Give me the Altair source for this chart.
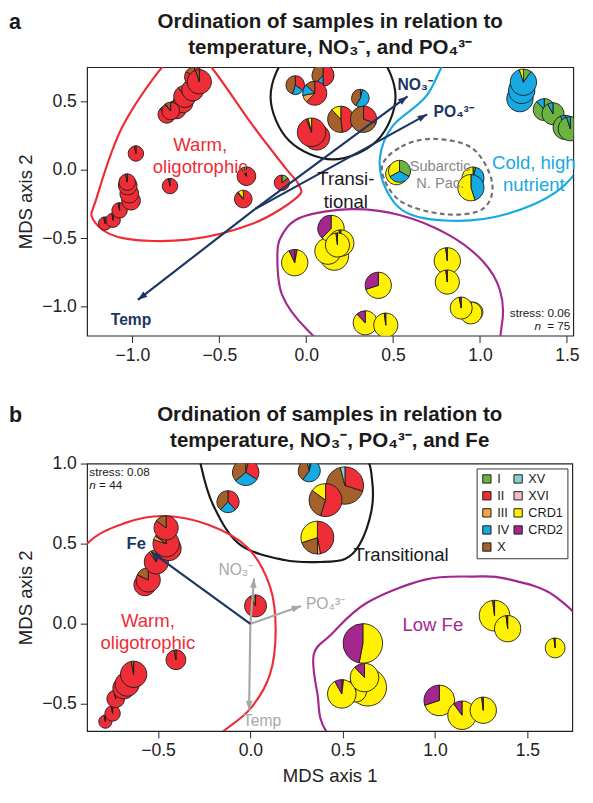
import math
import altair as alt
import pandas as pd

FONT = "Liberation Sans"
CATS = ["I", "II", "III", "IV", "X", "XV", "XVI", "CRD1", "CRD2"]
CAT_COLORS = ["#6CB33F", "#EE2D37", "#F9A342", "#17A9E1", "#A5612B", "#84D2D3", "#F7BACB", "#FFF100", "#A3278F"]

# ---------------- panel a : pies (MDS1, MDS2, relative size, composition) ----------------
a_x = [-1.158, -1.111, -1.074, -1.008, -1.018, -1.027, -1.03, -0.980, -0.784,
       -0.802, -0.746, -0.709, -0.78, -0.699, -0.653, -0.643, -0.615,
       -0.344, -0.362, -0.14,
       0.06, 0.031, -0.063, 0.097, 0.049, 0.312, 0.199, 0.330,
       0.52, 0.537, 0.96, 0.948,
       1.23, 1.24, 1.25, 1.37, 1.42, 1.49, 1.52,
       -0.066, 0.162, 0.125, 0.143, 0.199, 0.18, 0.415, 0.340, 0.458,
       0.812, 0.812, 0.96, 0.948, 0.892]
a_y = [-0.393, -0.369, -0.297, -0.226, -0.175, -0.115, -0.09, 0.119, -0.119,
       0.405, 0.441, 0.489, 0.43, 0.536, 0.584, 0.679, 0.643,
       -0.047, -0.214, -0.095,
       0.24, 0.274, 0.619, 0.691, 0.56, 0.524, 0.369, 0.369,
       -0.03, -0.011, -0.06, -0.131,
       0.52, 0.58, 0.64, 0.44, 0.41, 0.31, 0.30,
       -0.679, -0.631, -0.595, -0.429, -0.536, -0.55, -0.845, -1.119, -1.136,
       -0.666, -0.821, -1.04, -1.047, -1.011]
a_size = [6, 6.5, 7, 8.5, 8.5, 8.5, 7.5, 7, 7,
          8, 8.5, 9, 8, 10, 10, 9, 11,
          8.5, 8, 7,
          12, 13, 8.5, 10, 11, 8, 12, 12,
          10, 10, 10, 12,
          12, 12, 12, 10, 10, 11, 11,
          12, 13, 12, 12, 12, 11, 12, 11, 11,
          12, 11, 9, 10, 10]
a_comp = ["II:97,X:3", "II:97,X:3", "II:97,X:3", "II:97,X:3", "II:97,X:3", "II:96,X:4", "II:97,X:3", "II:97,X:3", "II:97,X:3",
          "II:86,X:14", "II:95,X:5", "II:93,X:7", "II:88,III:2,X:10", "II:90,X:10", "II:96,X:4", "II:84,X:16", "II:95,X:5",
          "II:90,X:7,CRD1:3", "II:88,X:2,CRD1:10", "I:15,II:85",
          "II:97,X:3", "II:94,X:2,CRD1:4", "II:35,IV:20,X:45", "II:50,IV:12,X:38", "II:62,III:10,IV:15,X:13",
          "I:4,IV:55,X:41", "II:48,X:40,CRD1:12", "II:30,X:70",
          "IV:30,CRD1:70", "I:33,IV:34,CRD1:33", "I:4,IV:40,CRD1:56", "IV:45,CRD1:55",
          "I:8,IV:92", "I:6,IV:94", "I:10,IV:85,CRD1:5", "I:88,IV:12", "I:92,IV:8", "I:94,IV:6", "I:95,IV:5",
          "II:3,CRD1:90,CRD2:7", "CRD1:98,CRD2:2", "CRD1:98,CRD2:2", "CRD1:62,CRD2:38", "CRD1:98,CRD2:2",
          "CRD1:98,CRD2:2", "CRD1:70,CRD2:30", "CRD1:88,CRD2:12", "CRD1:98,CRD2:2",
          "CRD1:98,CRD2:2", "CRD1:98,CRD2:2", "CRD1:98,CRD2:2", "CRD1:98,CRD2:2", "CRD1:97,CRD2:3"]

# ---------------- panel b : pies ----------------
b_x = [-0.025, -0.121, 0.319, 0.512, 0.407, 0.363,
       -0.785, -0.746, -0.729, -0.685, -0.667, -0.632, -0.403, 0.028,
       -0.571, -0.553, -0.509, -0.44, -0.456, -0.456,
       0.636, 0.57, 0.495, 0.618, 0.609, 1.023, 1.146, 1.261, 1.322, 1.393, 1.65]
b_y = [0.945, 0.762, 0.955, 0.863, 0.772, 0.538,
       -0.61, -0.559, -0.468, -0.40, -0.376, -0.315, -0.224, 0.112,
       0.244, 0.274, 0.386, 0.47, 0.50, 0.599,
       -0.396, -0.42, -0.437, -0.335, -0.122, -0.478, -0.57, -0.539, 0.051, -0.03, -0.15]
b_size = [12, 10, 10, 17, 15, 15,
          6, 7, 8, 10, 11, 12, 9, 10,
          10, 11, 11, 11, 12, 11,
          17, 10, 13, 13, 18, 14, 13, 12, 14, 12, 9]
b_comp = ["I:4,II:30,IV:30,X:36", "II:38,IV:24,X:38", "I:4,IV:56,X:36,XV:4", "II:30,X:66,XV:4",
          "II:55,X:30,CRD1:15", "II:47,III:3,X:20,CRD1:30",
          "II:97,X:3", "II:97,X:3", "II:97,X:3", "II:97,X:3", "II:97,X:3", "II:97,X:3", "II:97,X:3", "II:92,X:8",
          "II:90,X:10", "II:82,X:18", "II:90,III:3,X:7", "II:97,X:3", "II:80,III:5,X:15", "II:85,X:15",
          "CRD1:98,CRD2:2", "CRD1:80,CRD2:20", "II:2,CRD1:90,CRD2:8", "CRD1:88,CRD2:12", "CRD1:53,CRD2:47",
          "CRD1:70,CRD2:30", "CRD1:90,CRD2:10", "CRD1:98,CRD2:2", "CRD1:98,CRD2:2", "CRD1:98,CRD2:2", "CRD1:98,CRD2:2"]

# ---------------- cluster outlines (control points, data coords) ----------------
a_red_x = [-0.643, -0.795, -1.055, -1.205, -1.224, -1.055, -0.681, -0.306, -0.053, -0.044, -0.119, -0.306, -0.531]
a_red_y = [0.869, 0.798, 0.321, -0.202, -0.369, -0.5, -0.511, -0.393, -0.202, -0.107, 0.012, 0.321, 0.726]
a_blk_x = [-0.205, -0.098, 0.154, 0.407, 0.514, 0.407, 0.154, -0.098]
a_blk_y = [0.534, 0.855, 0.991, 0.855, 0.534, 0.212, 0.076, 0.212]
a_blu_x = [0.93, 0.688, 0.497, 0.424, 0.463, 0.593, 0.874, 1.154, 1.435, 1.604, 1.716, 1.604]
a_blu_y = [0.94, 0.534, 0.319, 0.084, -0.152, -0.324, -0.374, -0.324, -0.166, 0.084, 0.512, 0.941]
a_gry_x = [0.435, 0.548, 0.733, 0.958, 1.07, 1.014, 0.789, 0.537]
a_gry_y = [0.012, 0.169, 0.226, 0.155, -0.095, -0.288, -0.324, -0.224]
a_pur_x = [-0.166, -0.138, 0.003, 0.256, 0.649, 1.042, 1.126, 1.115, 1.014, 0.817, 0.537, 0.256, -0.025, -0.138]
a_pur_y = [-0.634, -0.917, -1.166, -1.416, -1.524, -1.416, -1.131, -0.881, -0.666, -0.474, -0.331, -0.288, -0.345, -0.474]

b_blk_x = [-0.269, -0.201, -0.058, 0.185, 0.38, 0.512, 0.592, 0.655, 0.66, 0.618, 0.433, -0.042, -0.28]
b_blk_y = [0.996, 0.74, 0.496, 0.398, 0.386, 0.404, 0.496, 0.703, 0.886, 1.057, 1.27, 1.30, 1.148]
b_red_x = [-1.046, -0.887, -0.676, -0.465, -0.227, -0.016, 0.106, 0.137, 0.106, 0.0, -0.158, -0.412, -1.046]
b_red_y = [0.173, 0.496, 0.63, 0.673, 0.618, 0.477, 0.234, -0.041, -0.315, -0.529, -0.681, -0.924, -0.741]
b_pur_x = [0.417, 0.363, 0.343, 0.433, 0.629, 0.946, 1.21, 1.384, 1.648, 1.83, 1.85, 1.278, 0.7]
b_pur_y = [-0.68, -0.435, -0.193, -0.071, 0.130, 0.276, 0.295, 0.282, 0.173, -0.1, -0.7, -1.0, -0.95]

# ---------------- environmental vectors ----------------
a_vec_names = ["Temp", "NO3", "PO4"]
a_vec_x0 = [-0.295, -0.295, -0.295]
a_vec_y0 = [-0.288, -0.288, -0.288]
a_vec_x1 = [-0.969, 0.583, 0.696]
a_vec_y1 = [-0.952, 0.536, 0.405]
b_vec_names = ["Temp", "NO3", "PO4", "Fe"]
b_vec_x0 = [0.0, 0.0, 0.0, 0.0]
b_vec_y0 = [0.0, 0.0, 0.0, 0.0]
b_vec_x1 = [-0.007, 0.02, 0.275, -0.535]
b_vec_y1 = [-0.539, 0.284, 0.112, 0.447]

NAVY = "#1C3664"
GRAYV = "#A8A8A8"
RED = "#EE2D37"
BLUE = "#17A9E1"
PURPLE = "#A3278F"

W_A, H_A = 498, 275
XD_A, YD_A = [-1.261, 1.537], [-1.213, 0.75]
W_B, H_B = 497, 274
XD_B, YD_B = [-0.884, 1.743], [-0.669, 1.0]


def pie_frame(xs, ys, sizes, comps):
    rows = []
    for i, (x, y, s, c) in enumerate(zip(xs, ys, sizes, comps)):
        for part in c.split(","):
            k, v = part.split(":")
            rows.append(dict(pid=i, x=x, y=y, s=s, cat=k, v=float(v), o=CATS.index(k)))
    return pd.DataFrame(rows)


def curve_frame(specs):
    rows = []
    for name, xs, ys, col in specs:
        for k, (x, y) in enumerate(zip(xs, ys)):
            rows.append(dict(g=name, k=k, x=x, y=y, c=col))
    return pd.DataFrame(rows)


def vec_frame(names, x0, y0, x1, y1, col, xd, yd, w, h):
    sx = w / (xd[1] - xd[0])
    sy = h / (yd[1] - yd[0])
    rows = []
    for n, a, b, c, d in zip(names, x0, y0, x1, y1):
        ang = math.degrees(math.atan2((c - a) * sx, (d - b) * sy)) % 360
        rows.append(dict(n=n, x0=a, y0=b, x1=c, y1=d, ang=ang, c=col))
    return pd.DataFrame(rows)


def axes(xd, yd, xvals, yvals, xtitle):
    xs = alt.Scale(domain=xd, nice=False, zero=False)
    ys = alt.Scale(domain=yd, nice=False, zero=False)
    xa = alt.Axis(values=xvals, format=".1f", title=xtitle, grid=False, domain=False,
                  tickSize=7, labelPadding=4, labelFontSize=18, titleFontSize=19,
                  titleFontWeight="normal", titlePadding=8, tickColor="#222", labelColor="#222",
                  titleColor="#222", labelFlush=False)
    ya = alt.Axis(values=yvals, format=".1f", title="MDS axis 2", grid=False, domain=False,
                  tickSize=7, labelPadding=4, labelFontSize=18, titleFontSize=19,
                  titleFontWeight="normal", titlePadding=6, tickColor="#222", labelColor="#222",
                  titleColor="#222", labelFlush=False)
    return xs, ys, xa, ya


ARROW = "M0,0L0.5,1.4L-0.5,1.4Z"


def panel(pies, curves, dashed, vecs, labels_norm, labels_bold, heading2, letter,
          xd, yd, xvals, yvals, xtitle, w, h, legend, hy):
    xs, ys, xa, ya = axes(xd, yd, xvals, yvals, xtitle)
    X = lambda f: alt.X(f, scale=xs, axis=xa)
    Y = lambda f: alt.Y(f, scale=ys, axis=ya)

    curve_layer = alt.Chart(curves).mark_line(interpolate="cardinal-closed", strokeWidth=2.2,
                                              clip=True).encode(
        x=X("x:Q"), y=Y("y:Q"), detail="g:N", order="k:Q", color=alt.Color("c:N", scale=None))
    layers = [curve_layer]
    if dashed is not None:
        layers.append(alt.Chart(dashed).mark_line(interpolate="cardinal-closed", strokeWidth=2.2,
                                                  strokeDash=[5, 3.5], clip=True).encode(
            x=X("x:Q"), y=Y("y:Q"), detail="g:N", order="k:Q", color=alt.Color("c:N", scale=None)))

    pie_layer = alt.Chart(pies).transform_stack(
        stack="v", groupby=["pid"], as_=["t0", "t1"], offset="normalize",
        sort=[alt.SortField("o", order="ascending")]
    ).mark_arc(stroke="#1a1a1a", strokeWidth=0.9, clip=True).encode(
        x=X("x:Q"), y=Y("y:Q"),
        theta=alt.Theta("t0:Q", scale=alt.Scale(domain=[0, 1], range=[0, 2 * math.pi])),
        theta2="t1:Q",
        radius=alt.Radius("s:Q", scale=alt.Scale(type="linear", domain=[0, 20], range=[0, 22.5])),
        color=alt.Color("cat:N", scale=alt.Scale(domain=CATS, range=CAT_COLORS), legend=legend),
    )
    layers.append(pie_layer)

    layers.append(alt.Chart(vecs).mark_rule(strokeWidth=2.2).encode(
        x=X("x0:Q"), y=Y("y0:Q"), x2="x1:Q", y2="y1:Q", color=alt.Color("c:N", scale=None)))
    layers.append(alt.Chart(vecs).mark_point(shape=ARROW, filled=True, size=190, opacity=1).encode(
        x=X("x1:Q"), y=Y("y1:Q"), angle=alt.Angle("ang:Q", scale=None),
        color=alt.Color("c:N", scale=None)))

    for lab in labels_norm:
        d = pd.DataFrame([lab])
        layers.append(alt.Chart(d).mark_text(align=lab.get("align", "center"), baseline="middle",
                                             fontSize=lab["fs"], lineBreak="\n", lineHeight=lab.get("lh", 22),
                                             fontStyle=lab.get("style", "normal"),
                                             dx=lab.get("dx", 0)).encode(
            x=X("x:Q"), y=Y("y:Q"), text="t:N", color=alt.Color("c:N", scale=None)))
    for lab in labels_bold:
        d = pd.DataFrame([lab])
        layers.append(alt.Chart(d).mark_text(align=lab.get("align", "center"), baseline="middle",
                                             fontSize=lab["fs"], fontWeight="bold").encode(
            x=X("x:Q"), y=Y("y:Q"), text="t:N", color=alt.Color("c:N", scale=None)))

    one = pd.DataFrame({"z": [0]})
    layers.append(alt.Chart(one).mark_text(text="Ordination of samples in relation to", fontSize=21,
                                           fontWeight="bold", align="center", baseline="alphabetic",
                                           color="#1a1a1a").encode(x=alt.value(w / 2), y=alt.value(-hy)))
    layers.append(alt.Chart(one).mark_text(text=heading2, fontSize=21, fontWeight="bold",
                                           align="center", baseline="alphabetic",
                                           color="#1a1a1a").encode(x=alt.value(w / 2), y=alt.value(-hy + 27)))
    layers.append(alt.Chart(one).mark_text(text=letter, fontSize=22, fontWeight="bold", align="left",
                                           baseline="alphabetic", color="#1a1a1a").encode(
        x=alt.value(-80), y=alt.value(-hy + 1)))

    return alt.layer(*layers).properties(width=w, height=h)


# ---------- build panel a ----------
pa_pies = pie_frame(a_x, a_y, a_size, a_comp)
pa_curves = curve_frame([("red", a_red_x, a_red_y, RED), ("blk", a_blk_x, a_blk_y, "#1a1a1a"),
                         ("blu", a_blu_x, a_blu_y, BLUE), ("pur", a_pur_x, a_pur_y, PURPLE)])
pa_dash = curve_frame([("gry", a_gry_x, a_gry_y, "#707070")])
pa_vecs = vec_frame(a_vec_names, a_vec_x0, a_vec_y0, a_vec_x1, a_vec_y1, NAVY, XD_A, YD_A, W_A, H_A)
pa_norm = [
    dict(x=-0.61, y=0.18, t="Warm,\noligotrophic", c=RED, fs=19, lh=23),
    dict(x=0.228, y=-0.07, t="Transi-\ntional", c="#1a1a1a", fs=19, lh=23),
    dict(x=0.771, y=0.03, t="Subarctic\nN. Pac.", c="#888888", fs=15, lh=18),
    dict(x=1.31, y=0.05, t="Cold, high\nnutrient", c=BLUE, fs=19, lh=23),
    dict(x=1.52, y=-1.045, t="stress: 0.06", c="#1a1a1a", fs=12, align="right"),
    dict(x=1.52, y=-1.14, t="= 75", c="#1a1a1a", fs=12, align="right"),
    dict(x=1.52, y=-1.14, t="n", c="#1a1a1a", fs=12, align="right", style="italic", dx=-30),
]
pa_bold = [
    dict(x=0.525, y=0.62, t="NO₃⁻", c=NAVY, fs=16, align="left"),
    dict(x=0.733, y=0.42, t="PO₄³⁻", c=NAVY, fs=16, align="left"),
    dict(x=-1.008, y=-1.096, t="Temp", c=NAVY, fs=16),
]
panel_a = panel(pa_pies, pa_curves, pa_dash, pa_vecs, pa_norm, pa_bold,
                "temperature, NO₃⁻, and PO₄³⁻", "a", XD_A, YD_A,
                [-1.0, -0.5, 0.0, 0.5, 1.0, 1.5], [-1.0, -0.5, 0.0, 0.5], None, W_A, H_A, None, 40)

# ---------- build panel b ----------
pb_pies = pie_frame(b_x, b_y, b_size, b_comp)
pb_curves = curve_frame([("blk", b_blk_x, b_blk_y, "#1a1a1a"), ("red", b_red_x, b_red_y, RED),
                         ("pur", b_pur_x, b_pur_y, PURPLE)])
vb1 = vec_frame(b_vec_names[:3], b_vec_x0[:3], b_vec_y0[:3], b_vec_x1[:3], b_vec_y1[:3], GRAYV,
                XD_B, YD_B, W_B, H_B)
vb2 = vec_frame(b_vec_names[3:], b_vec_x0[3:], b_vec_y0[3:], b_vec_x1[3:], b_vec_y1[3:], NAVY,
                XD_B, YD_B, W_B, H_B)
pb_vecs = pd.concat([vb1, vb2], ignore_index=True)
pb_norm = [
    dict(x=0.816, y=0.428, t="Transitional", c="#1a1a1a", fs=19),
    dict(x=-0.555, y=0.02, t="Warm,\noligotrophic", c=RED, fs=19, lh=23),
    dict(x=0.988, y=-0.01, t="Low Fe", c=PURPLE, fs=19),
    dict(x=-0.079, y=0.337, t="NO₃⁻", c=GRAYV, fs=16),
    dict(x=0.301, y=0.124, t="PO₄³⁻", c=GRAYV, fs=16, align="left"),
    dict(x=0.063, y=-0.608, t="Temp", c=GRAYV, fs=16),
    dict(x=-0.872, y=0.949, t="stress: 0.08", c="#1a1a1a", fs=12, align="left"),
    dict(x=-0.872, y=0.863, t="n", c="#1a1a1a", fs=12, align="left", style="italic"),
    dict(x=-0.872, y=0.863, t="= 44", c="#1a1a1a", fs=12, align="left", dx=10),
]
pb_bold = [dict(x=-0.618, y=0.497, t="Fe", c=NAVY, fs=17)]
legend_b = alt.Legend(title=None, orient="top-right", offset=5, columns=2, symbolType="square",
                      symbolSize=72, symbolStrokeColor="#1a1a1a", symbolStrokeWidth=1,
                      symbolOpacity=1, labelFontSize=13, labelColor="#1a1a1a", padding=4,
                      rowPadding=3.5, columnPadding=2, strokeColor="#333", fillColor="white",
                      labelOffset=4)
panel_b = panel(pb_pies, pb_curves, None, pb_vecs, pb_norm, pb_bold,
                "temperature, NO₃⁻, PO₄³⁻, and Fe", "b", XD_B, YD_B,
                [-0.5, 0.0, 0.5, 1.0, 1.5], [-0.5, 0.0, 0.5, 1.0], "MDS axis 1", W_B, H_B, legend_b, 44)

chart = alt.vconcat(panel_a, panel_b, spacing=39).resolve_scale(color="independent").configure(
    font=FONT
).configure_view(stroke="#222", strokeWidth=1.2).configure_legend(
    labelFont=FONT
).properties(background="white", padding={"top": -7, "left": 0, "right": 5, "bottom": 5})

chart.save("out.html", embed_options={"renderer": "svg", "actions": False})
